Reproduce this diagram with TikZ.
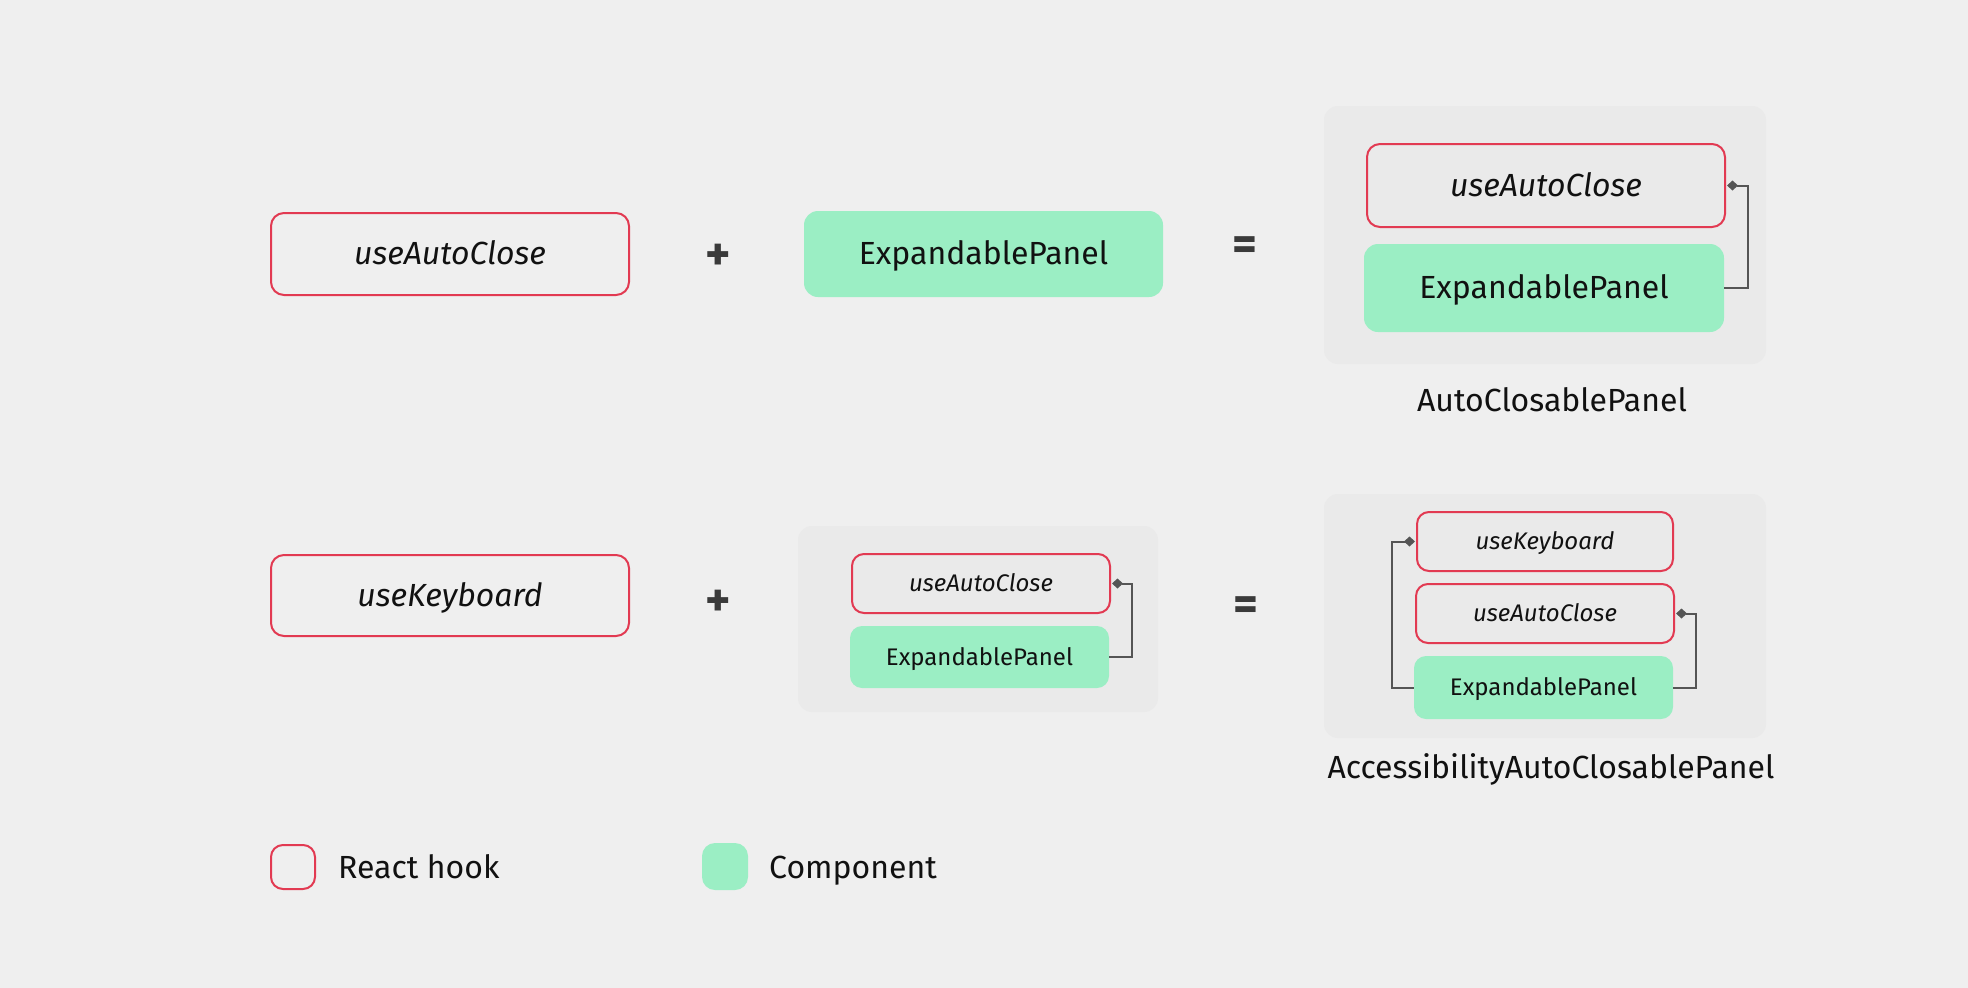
\documentclass[tikz,border=0pt]{standalone}
\usepackage{fontspec}
\setmainfont{Fira Sans}
\usetikzlibrary{arrows.meta}
\definecolor{bg}{HTML}{EFEFEF}
\definecolor{cont}{HTML}{EAEAEA}
\definecolor{hookred}{HTML}{E23A52}
\definecolor{compgreen}{HTML}{9BEEC4}
\definecolor{linegray}{HTML}{555555}
\definecolor{symb}{HTML}{3A3A3A}
\definecolor{txt}{HTML}{111111}
\begin{document}
\begin{tikzpicture}[x=1pt,y=-1pt,
  box/.style={rectangle, inner sep=0pt, text=txt, text depth=0pt, align=center},
  hookbox/.style={box, draw=hookred, line width=2pt, rounded corners=13pt},
  compbox/.style={box, fill=compgreen, rounded corners=14pt},
  bighook/.style={hookbox, text height=21pt, font=\fontsize{32}{38}\selectfont\itshape},
  smallhook/.style={hookbox, rounded corners=12pt, text height=16pt, font=\fontsize{24}{29}\selectfont\itshape},
  bigcomp/.style={compbox, text height=21pt, font=\fontsize{32}{38}\selectfont},
  smallcomp/.style={compbox, rounded corners=12pt, text height=16pt, font=\fontsize{24}{29}\selectfont},
  container/.style={rectangle, fill=cont, rounded corners=14pt, inner sep=0pt},
  conn/.style={draw=linegray, line width=2pt, {Diamond[length=11pt,width=10pt]}-},
  opsym/.style={text=symb, font=\fontsize{48}{48}\selectfont\bfseries, inner sep=0pt},
  caption/.style={text=txt, inner sep=0pt, font=\fontsize{32}{38}\selectfont, text height=22pt, text depth=0pt},
]
\fill[bg] (0,0) rectangle (1968,988);
\useasboundingbox (0,0) rectangle (1968,988);

% ---------- Row 1 ----------
\node[bighook, minimum width=358pt, minimum height=82pt] (h1) at (450,254) {useAutoClose};
\node[opsym] (plus1) at (718,257) {+};
\node[bigcomp, minimum width=359pt, minimum height=86pt] (c1) at (983.5,254) {ExpandablePanel};
\node[opsym] (eq1) at (1245,249) {=};

\node[container, minimum width=442pt, minimum height=258pt] (g1) at (1545,235) {};
\node[bighook, minimum width=358pt, minimum height=83pt] (h1r) at (1546,185.5) {useAutoClose};
\node[bigcomp, minimum width=360pt, minimum height=88pt] (c1r) at (1544,288) {ExpandablePanel};
\draw[conn] ([xshift=1pt]h1r.east) -- ++(21,0) |- (c1r.east);
\node[caption] (lab1) at (1552,400) {AutoClosablePanel};

% ---------- Row 2 ----------
\node[bighook, minimum width=358pt, minimum height=81pt] (h2) at (450,595.5) {useKeyboard};
\node[opsym] (plus2) at (718,603) {+};

\node[container, minimum width=360pt, minimum height=186pt] (g2) at (978,619) {};
\node[smallhook, minimum width=258pt, minimum height=59pt] (h2m) at (981,583.5) {useAutoClose};
\node[smallcomp, minimum width=259pt, minimum height=62pt] (c2m) at (979.5,657) {ExpandablePanel};
\draw[conn] ([xshift=1pt]h2m.east) -- ++(20,0) |- (c2m.east);

\node[opsym] (eq2) at (1246,609) {=};

\node[container, minimum width=442pt, minimum height=244pt] (g3) at (1545,616) {};
\node[smallhook, minimum width=256pt, minimum height=59pt] (kb3) at (1545,541.5) {useKeyboard};
\node[smallhook, minimum width=258pt, minimum height=59pt] (ac3) at (1545,613.5) {useAutoClose};
\node[smallcomp, minimum width=259pt, minimum height=63pt] (c3) at (1543.5,687.5) {ExpandablePanel};
\draw[conn] ([xshift=1pt]ac3.east) -- ++(20,0) |- (c3.east);
\draw[conn] ([xshift=-1pt]kb3.west) -- ++(-23,0) |- (c3.west);
\node[caption] (lab2) at (1551,767) {AccessibilityAutoClosablePanel};

% ---------- Legend ----------
\node[hookbox, minimum width=44pt, minimum height=44pt, rounded corners=12pt] (lh) at (293,867) {};
\node[caption, anchor=west] (lht) at (338,867) {React hook};
\node[compbox, minimum width=46pt, minimum height=47pt, rounded corners=13pt] (lc) at (725,866.5) {};
\node[caption, anchor=west] (lct) at (769,867) {Component};
\end{tikzpicture}
\end{document}
